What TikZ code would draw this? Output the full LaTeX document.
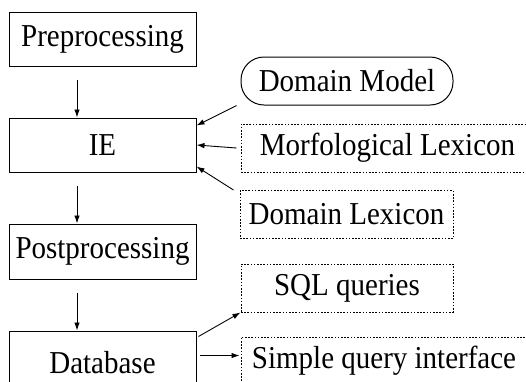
\documentclass[tikz,border=0pt]{standalone}
\usepackage{fontspec}
\usepackage{graphicx}
\setmainfont{Liberation Serif}
\usetikzlibrary{arrows.meta,calc}
\newcommand{\vtxt}[1]{\scalebox{1}[1.1]{#1}}
\begin{document}
\begin{tikzpicture}[x=1pt,y=-1pt,
  every node/.style={font=\fontsize{29}{33}\selectfont, inner sep=0pt, line width=1pt},
  solidbox/.style={draw, rectangle, minimum width=187pt, minimum height=54pt},
  roundbox/.style={draw, rectangle, rounded corners=23pt, minimum width=212pt, minimum height=48pt},
  dotbox/.style={draw, rectangle, dash pattern=on 1.6pt off 1.6pt, minimum height=48pt},
  arr/.style={line width=0.9pt, -{Latex[length=8pt,width=5.5pt]}}]
\useasboundingbox (0,0) rectangle (526,381);
\clip (0,0) rectangle (526,381);
\node[solidbox] (pre) at (102.5,39) {\vtxt{Preprocessing}};
\node[solidbox] (ie) at (102.5,145) {\vtxt{IE}};
\node[solidbox, minimum height=55pt] (post) at (102.5,251.5) {\vtxt{Postprocessing}};
\node[solidbox, minimum height=64pt] (db) at (102.5,363) {\vtxt{Database}};
\node[roundbox] (dm) at (347,81) {\vtxt{Domain Model}};
\node[dotbox, minimum width=293pt] (ml) at (387.5,148) {\vtxt{Morfological Lexicon}};
\node[dotbox, minimum width=213pt] (dl) at (346.5,214.5) {\vtxt{Domain Lexicon}};
\node[dotbox, minimum width=212pt] (sql) at (347,288) {\vtxt{SQL queries}};
\node[dotbox, minimum width=286pt] (sqi) at (384,361) {\vtxt{Simple query interface}};
\coordinate (dbq) at ([xshift=3pt,yshift=-25pt]db.north east);
\coordinate (sqiq) at ([xshift=-1pt]dbq -| sqi.west);
\draw[arr] ([xshift=-25.5pt,yshift=-13pt]pre.south) -- ([xshift=-25.5pt]ie.north);
\draw[arr] ([xshift=-25.5pt,yshift=-13pt]ie.south) -- ([xshift=-25.5pt]post.north);
\draw[arr] ([xshift=-25.5pt,yshift=-13pt]post.south) -- ([xshift=-25.5pt]db.north);
\draw[arr] ([xshift=-4pt]dm.south west) -- ([yshift=-8pt]ie.north east);
\draw[arr] ([xshift=-4pt]ml.west) -- (ie.east);
\draw[arr] ([xshift=-6pt]dl.north west) -- ([yshift=6pt]ie.south east);
\draw[arr] ([xshift=2pt,yshift=-6pt]db.north east) -- (sql.south west);
\draw[arr] (dbq) -- (sqiq);
\end{tikzpicture}
\end{document}
